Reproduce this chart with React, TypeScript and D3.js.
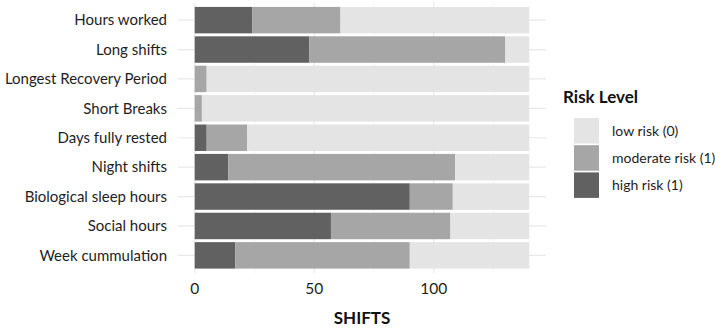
import * as d3 from 'd3'

const categories = [
  'Hours worked', 'Long shifts', 'Longest Recovery Period', 'Short Breaks',
  'Days fully rested', 'Night shifts', 'Biological sleep hours', 'Social hours', 'Week cummulation',
]
const highRisk = [24, 48, 0, 0, 5, 14, 90, 57, 17]
const moderateRisk = [37, 82, 5, 3, 17, 95, 18, 50, 73]
const lowRisk = [79, 10, 135, 137, 118, 31, 32, 33, 50]

const levels = ['high', 'moderate', 'low']
const legendLabels = ['low risk (0)', 'moderate risk (1)', 'high risk (1)']
const legendKeys = ['low', 'moderate', 'high']
const xTicks = [0, 50, 100]
const xMinor = [25, 75, 125]

const W = 715, H = 331
const FONT = 'Lato, "Open Sans", sans-serif'
const COLOR: Record<string, string> = { high: '#616161', moderate: '#a6a6a6', low: '#e4e4e4' }

export default function App() {
  const rows = categories.map((c, i) => ({ cat: c, high: highRisk[i], moderate: moderateRisk[i], low: lowRisk[i] }))
  const stacked = d3.stack<any>().keys(levels)(rows)
  const maxX = d3.max(rows, (r) => r.high + r.moderate + r.low) as number

  const panelL = 178, panelR = 546, panelT = 2.5, panelB = 273
  const pad = (panelR - panelL) * 0.05 / 1.1
  const x = d3.scaleLinear([0, maxX], [panelL + pad, panelR - pad])
  const y = d3.scaleBand(categories, [panelT, panelB]).paddingInner(0.1).paddingOuter(0.15)
  const bw = y.bandwidth()

  return (
    <svg width={W} height={H} style={{ position: 'fixed', left: 0, top: 0, background: '#fff' }} fontFamily={FONT}>
      {/* grid */}
      {xMinor.map((t) => (
        <line key={'m' + t} x1={x(t)} x2={x(t)} y1={panelT} y2={panelB} stroke="#f2f2f2" strokeWidth={0.8} />
      ))}
      {xTicks.map((t) => (
        <line key={'g' + t} x1={x(t)} x2={x(t)} y1={panelT} y2={panelB} stroke="#e8e8e8" strokeWidth={1.2} />
      ))}
      {categories.map((c) => (
        <line key={'h' + c} x1={panelL} x2={panelR} y1={y(c)! + bw / 2} y2={y(c)! + bw / 2} stroke="#e8e8e8" strokeWidth={1.2} />
      ))}
      {/* bars */}
      {stacked.map((s) => (
        <g key={s.key} fill={COLOR[s.key]}>
          {s.map((d, i) => (
            <rect key={i} x={x(d[0])} y={y(categories[i])} width={x(d[1]) - x(d[0])} height={bw} />
          ))}
        </g>
      ))}
      {/* y labels */}
      {categories.map((c) => (
        <text key={'t' + c} x={167} y={y(c)! + bw / 2} dy="0.35em" textAnchor="end" fontSize={15} fill="#1e1e1e">{c}</text>
      ))}
      {/* x labels */}
      {xTicks.map((t) => (
        <text key={'x' + t} x={x(t)} y={289} dy="0.35em" textAnchor="middle" fontSize={15.5} fill="#1e1e1e">{t}</text>
      ))}
      <text x={(panelL + panelR) / 2} y={318} dy="0.35em" textAnchor="middle" fontSize={17} fontWeight="bold" fill="#111">SHIFTS</text>
      {/* legend */}
      <text x={563} y={97} dy="0.35em" fontSize={17} fontWeight="bold" fill="#111">Risk Level</text>
      {legendKeys.map((k, i) => (
        <g key={'l' + k} transform={`translate(574,${118 + i * 27.2})`}>
          <rect width={25} height={25.5} fill={COLOR[k]} />
          <text x={38} y={13} dy="0.35em" fontSize={14} fill="#1e1e1e">{legendLabels[i]}</text>
        </g>
      ))}
    </svg>
  )
}
